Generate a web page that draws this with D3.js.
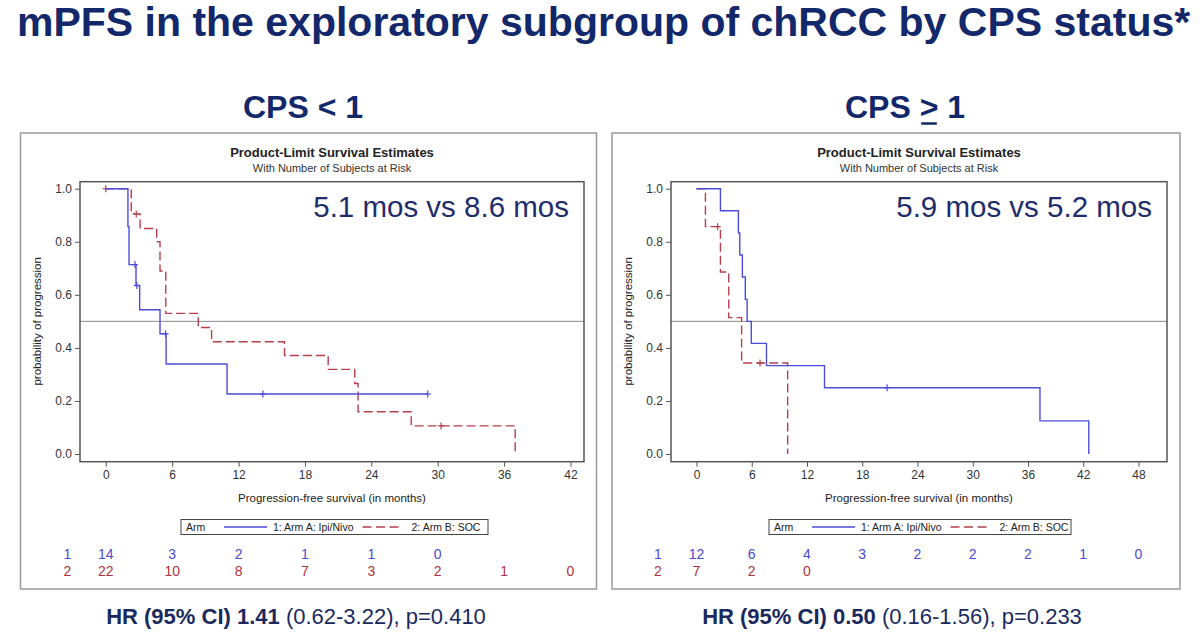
<!DOCTYPE html>
<html><head><meta charset="utf-8">
<script src="https://cdn.jsdelivr.net/npm/d3@7"></script>
<style>
html,body{margin:0;padding:0;background:#fff;}
svg{display:block;font-family:"Liberation Sans",Arial,Helvetica,sans-serif;}
</style></head>
<body>
<svg id="chart" width="1200" height="639"></svg>
<script>
// ---------------- DATA ----------------
const mainTitle = "mPFS in the exploratory subgroup of chRCC by CPS status*";
const panelHeads = ["CPS < 1", "CPS > 1"];
const plotTitle = "Product-Limit Survival Estimates";
const plotSubtitle = "With Number of Subjects at Risk";
const medianText = ["5.1 mos vs 8.6 mos", "5.9 mos vs 5.2 mos"];
const hrBold = ["HR (95% CI) 1.41", "HR (95% CI) 0.50"];
const hrRest = [" (0.62-3.22), p=0.410", " (0.16-1.56), p=0.233"];
const xTitle = "Progression-free survival (in months)";
const yTitle = "probability of progression";
const legendTitle = "Arm";
const armNames = ["1: Arm A: Ipi/Nivo", "2: Arm B: SOC"];
const groupLabels = ["1", "2"];
const yTicks = [0, 0.2, 0.4, 0.6, 0.8, 1.0];
const xTicksCps0 = [0, 6, 12, 18, 24, 30, 36, 42];
const xTicksCps1 = [0, 6, 12, 18, 24, 30, 36, 42, 48];

// CPS < 1 : Arm A (Ipi/Nivo)
const cps0ArmATimes = [0, 2.0, 2.1, 2.73, 3.06, 4.9, 5.45, 10.96, 29.1];
const cps0ArmASurv  = [1, 0.857, 0.714, 0.635, 0.544, 0.453, 0.339, 0.226, 0.226];
const cps0ArmACens  = [2.64, 2.8, 5.4, 14.2, 29.1];
// CPS < 1 : Arm B (SOC)
const cps0ArmBTimes = [0, 2.3, 3.1, 4.6, 4.9, 5.42, 8.36, 9.56, 16.15, 20.1, 22.5, 22.8, 27.6, 37.0];
const cps0ArmBSurv  = [1, 0.905, 0.85, 0.80, 0.69, 0.53, 0.477, 0.423, 0.371, 0.319, 0.266, 0.159, 0.106, 0];
const cps0ArmBCens  = [0, 2.75, 30.3];
// CPS >= 1 : Arm A (Ipi/Nivo)
const cps1ArmATimes = [0, 2.6, 4.55, 4.7, 4.98, 5.3, 5.5, 5.95, 7.6, 13.9, 37.3, 42.6];
const cps1ArmASurv  = [1, 0.917, 0.833, 0.75, 0.667, 0.583, 0.5, 0.417, 0.333, 0.25, 0.125, 0];
const cps1ArmACens  = [20.7];
// CPS >= 1 : Arm B (SOC)
const cps1ArmBTimes = [0, 0.97, 2.6, 3.5, 4.9, 9.9];
const cps1ArmBSurv  = [1, 0.857, 0.686, 0.514, 0.343, 0];
const cps1ArmBCens  = [2.3, 6.9];

// Numbers at risk (at x ticks)
const cps0RiskA = [14, 3, 2, 1, 1, 0];
const cps0RiskB = [22, 10, 8, 7, 3, 2, 1, 0];
const cps1RiskA = [12, 6, 4, 3, 2, 2, 2, 1, 0];
const cps1RiskB = [7, 2, 0];

// ---------------- STYLE / LAYOUT ----------------
const navy = "#13286b";
const blue = "#4d4ddb";
const red = "#b73f4d";
const blueTxt = "#4a4ad2";
const redTxt = "#b0323f";

const panels = [
  { outer:[20.5,133,596.5,589], plot:[80,181.7,584,461.7], xr:[105.8,570.5], xmax:42, ticks:xTicksCps0,
    head:panelHeads[0], headX:303, med:medianText[0], medX:569, hrX:296,
    hrB:hrBold[0], hrR:hrRest[0], legend:[181,488],
    A:{t:cps0ArmATimes,s:cps0ArmASurv,c:cps0ArmACens,r:cps0RiskA},
    B:{t:cps0ArmBTimes,s:cps0ArmBSurv,c:cps0ArmBCens,r:cps0RiskB} },
  { outer:[612,133,1180,589], plot:[671,181.7,1167,461.7], xr:[696.5,1138.5], xmax:48, ticks:xTicksCps1,
    head:panelHeads[1], headX:905, med:medianText[1], medX:1152, hrX:892,
    hrB:hrBold[1], hrR:hrRest[1], legend:[769,1071],
    A:{t:cps1ArmATimes,s:cps1ArmASurv,c:cps1ArmACens,r:cps1RiskA},
    B:{t:cps1ArmBTimes,s:cps1ArmBSurv,c:cps1ArmBCens,r:cps1RiskB} }
];

const svg = d3.select("#chart");
svg.append("rect").attr("width",1200).attr("height",639).attr("fill","#fff");

svg.append("text").attr("x",17).attr("y",36)
  .attr("font-size",41).attr("font-weight","bold").attr("fill",navy)
  .text(mainTitle);

function stepValue(times, surv, t){
  let v = surv[0];
  for (let i=0;i<times.length;i++){ if (times[i] <= t) v = surv[i]; }
  return v;
}

panels.forEach((p, pi) => {
  const g = svg.append("g");
  // panel heading
  const head = g.append("text").attr("x",p.headX).attr("y",118).attr("text-anchor","middle")
    .attr("font-size",32).attr("font-weight","bold").attr("fill",navy).text(p.head);
  if (pi === 1) {
    const node = head.node();
    const idx = p.head.indexOf(">");
    const s = node.getStartPositionOfChar(idx), e = node.getEndPositionOfChar(idx);
    g.append("line").attr("x1",s.x+1.5).attr("x2",e.x-1.5).attr("y1",123.5).attr("y2",123.5)
      .attr("stroke",navy).attr("stroke-width",2.5);
  }
  // outer frame
  g.append("rect").attr("x",p.outer[0]).attr("y",p.outer[1])
    .attr("width",p.outer[2]-p.outer[0]).attr("height",p.outer[3]-p.outer[1])
    .attr("fill","none").attr("stroke","#9a9a9a").attr("stroke-width",1.5);

  const x = d3.scaleLinear().domain([0,p.xmax]).range(p.xr);
  const y = d3.scaleLinear().domain([0,1]).range([454,188.7]);
  const pcx = (p.plot[0]+p.plot[2])/2;

  g.append("text").attr("x",pcx).attr("y",157).attr("text-anchor","middle")
    .attr("font-size",13).attr("font-weight","bold").attr("fill","#222").text(plotTitle);
  g.append("text").attr("x",pcx).attr("y",171.5).attr("text-anchor","middle")
    .attr("font-size",11).attr("fill","#333").text(plotSubtitle);

  // reference line 0.5
  g.append("line").attr("x1",p.plot[0]).attr("x2",p.plot[2]).attr("y1",y(0.5)).attr("y2",y(0.5))
    .attr("stroke","#8a8a8a").attr("stroke-width",1);

  // axes
  const ya = d3.axisLeft(y).tickValues(yTicks).tickFormat(d3.format(".1f")).tickSize(5).tickPadding(3);
  const yg = g.append("g").attr("transform",`translate(${p.plot[0]},0)`).call(ya);
  yg.select(".domain").remove();
  yg.selectAll("line").attr("stroke","#555");
  yg.selectAll("text").attr("font-size",12).attr("fill","#333").attr("font-family","Liberation Sans, Arial, sans-serif");

  const xa = d3.axisBottom(x).tickValues(p.ticks).tickFormat(d3.format("d")).tickSize(5).tickPadding(4);
  const xg = g.append("g").attr("transform",`translate(0,${p.plot[3]})`).call(xa);
  xg.select(".domain").remove();
  xg.selectAll("line").attr("stroke","#555");
  xg.selectAll("text").attr("font-size",12).attr("fill","#333").attr("font-family","Liberation Sans, Arial, sans-serif");

  // plot frame
  g.append("rect").attr("x",p.plot[0]).attr("y",p.plot[1])
    .attr("width",p.plot[2]-p.plot[0]).attr("height",p.plot[3]-p.plot[1])
    .attr("fill","none").attr("stroke","#555").attr("stroke-width",1.5);

  g.append("text").attr("x",pcx).attr("y",502).attr("text-anchor","middle")
    .attr("font-size",11.5).attr("fill","#222").text(xTitle);
  g.append("text").attr("transform",`translate(${p.plot[0]-39},${y(0.5)}) rotate(-90)`)
    .attr("text-anchor","middle").attr("font-size",11.5).attr("fill","#222").text(yTitle);

  // curves
  const line = d3.line().x(d=>x(d[0])).y(d=>y(d[1])).curve(d3.curveStepAfter);
  [["B",red,"9,4"],["A",blue,null]].forEach(([k,col,dash])=>{
    const arm = p[k];
    const pts = arm.t.map((t,i)=>[t,arm.s[i]]);
    const path = g.append("path").attr("d",line(pts)).attr("fill","none")
      .attr("stroke",col).attr("stroke-width",1.4);
    if (dash) path.attr("stroke-dasharray",dash);
    arm.c.forEach(ct=>{
      const sv = stepValue(arm.t, arm.s, ct);
      g.append("line").attr("x1",x(ct)).attr("x2",x(ct)).attr("y1",y(sv)-3.5).attr("y2",y(sv)+3.5)
        .attr("stroke",col).attr("stroke-width",1.2);
      g.append("line").attr("x1",x(ct)-3).attr("x2",x(ct)+3).attr("y1",y(sv)).attr("y2",y(sv))
        .attr("stroke",col).attr("stroke-width",1.2);
    });
  });

  // legend
  const lx0 = p.legend[0], lx1 = p.legend[1];
  g.append("rect").attr("x",lx0).attr("y",519.5).attr("width",lx1-lx0).attr("height",15)
    .attr("fill","#fff").attr("stroke","#444").attr("stroke-width",1);
  g.append("text").attr("x",lx0+5).attr("y",531).attr("font-size",10.5).attr("fill","#222").text(legendTitle);
  let cx = lx0 + 43;
  g.append("line").attr("x1",cx).attr("x2",cx+43).attr("y1",527).attr("y2",527).attr("stroke",blue).attr("stroke-width",1.3);
  cx += 49;
  const t1 = g.append("text").attr("x",cx).attr("y",531).attr("font-size",10.5).attr("fill","#222").text(armNames[0]);
  cx += t1.node().getComputedTextLength() + 9;
  g.append("line").attr("x1",cx).attr("x2",cx+40).attr("y1",527).attr("y2",527).attr("stroke",red)
    .attr("stroke-width",1.3).attr("stroke-dasharray","9,4.5");
  cx += 49;
  g.append("text").attr("x",cx).attr("y",531).attr("font-size",10.5).attr("fill","#222").text(armNames[1]);

  // numbers at risk
  const gx = x(0) - 38.5;
  g.append("text").attr("x",gx).attr("y",559).attr("text-anchor","middle").attr("font-size",14).attr("fill",blueTxt).text(groupLabels[0]);
  g.append("text").attr("x",gx).attr("y",576).attr("text-anchor","middle").attr("font-size",14).attr("fill",redTxt).text(groupLabels[1]);
  g.selectAll(null).data(p.A.r).enter().append("text")
    .attr("x",(d,i)=>x(p.ticks[i])).attr("y",559).attr("text-anchor","middle")
    .attr("font-size",14).attr("fill",blueTxt).text(d=>d);
  g.selectAll(null).data(p.B.r).enter().append("text")
    .attr("x",(d,i)=>x(p.ticks[i])).attr("y",576).attr("text-anchor","middle")
    .attr("font-size",14).attr("fill",redTxt).text(d=>d);

  // median annotation
  g.append("text").attr("x",p.medX).attr("y",217).attr("text-anchor","end")
    .attr("font-size",29.5).attr("fill","#1f2d6b").text(p.med);

  // HR
  const hr = g.append("text").attr("x",p.hrX).attr("y",624).attr("text-anchor","middle")
    .attr("font-size",22).attr("fill","#1b2a5e");
  hr.append("tspan").attr("font-weight","bold").text(p.hrB);
  hr.append("tspan").text(p.hrR);
});
</script>
</body></html>
